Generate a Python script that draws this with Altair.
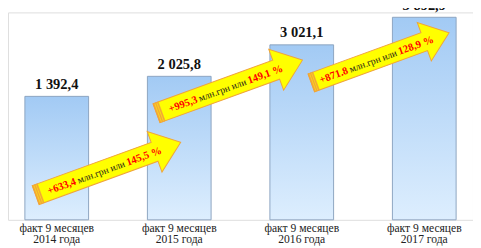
import altair as alt
import pandas as pd

# ---- data ----
periods = ["факт 9 месяцев|2014 года", "факт 9 месяцев|2015 года",
           "факт 9 месяцев|2016 года", "факт 9 месяцев|2017 года"]
values = [1392.4, 2025.8, 3021.1, 3892.9]
value_labels = ["1 392,4", "2 025,8", "3 021,1", "3 892,9"]

# growth arrows (between neighbouring bars)
arrow_pos = [0.42, 1.41, 2.64]          # position in bar-index units
arrow_level = [-894, 1698, 2613]        # level on the value axis
arrow_len = [160, 161, 152]
arrow_inc = ["+633,4", "+995,3", "+871.8"]
arrow_mid = ["млн.грн или", "млн.грн или", "млн.грн или"]
arrow_pct = ["145,5 %", "149,1 %", "128,9 %"]

bars_df = pd.DataFrame({"period": periods, "value": values, "label": value_labels})
arrows_df = pd.DataFrame({
    "pos": arrow_pos, "level": arrow_level,
    "size": [l * l for l in arrow_len],
    "inc": arrow_inc, "mid": arrow_mid, "pct": arrow_pct,
})

Y_MIN, Y_MAX = -2511, 4047
yscale = alt.Scale(domain=[Y_MIN, Y_MAX], nice=False, zero=False)
FONT = "Times New Roman, Liberation Serif, serif"

grad = alt.Gradient(
    gradient="linear", x1=0, x2=0, y1=0, y2=1,
    stops=[alt.GradientStop(color="#a2caf4", offset=0),
           alt.GradientStop(color="#ddeefe", offset=1)],
)

band_scale = alt.Scale(paddingInner=0.48, paddingOuter=0.1378)
xband = alt.X("period:N", sort=periods, scale=band_scale,
              axis=alt.Axis(title=None, labelAngle=0, domain=False, ticks=False,
                            labelExpr="split(datum.label, '|')",
                            labelFont=FONT, labelFontSize=12, labelColor="#222222",
                            labelLineHeight=12, labelPadding=3, labelBaseline="top"))

bars = alt.Chart(bars_df).mark_bar(fill=grad, stroke="#8ba3c0", strokeWidth=1).encode(
    x=xband,
    y=alt.Y("value:Q", scale=yscale, axis=None),
    y2=alt.Y2(datum=Y_MIN),
)

bar_text = alt.Chart(bars_df).mark_text(
    font=FONT, fontSize=15, fontWeight="bold", color="#111111",
    baseline="alphabetic", dy=-8,
).encode(x=xband, y=alt.Y("value:Q", scale=yscale, axis=None), text="label:N")

bar_layer = alt.layer(bars, bar_text)

W = 482
d0 = -50.5 / 127
d1 = d0 + W / 127
xq = alt.X("pos:Q", scale=alt.Scale(domain=[d0, d1], nice=False, zero=False), axis=None)
yq = alt.Y("level:Q", scale=yscale, axis=None)

ARROW = ("M -1 -0.13 L 0.64 -0.13 L 0.64 -0.28 L 1 0 L 0.64 0.28 "
         "L 0.64 0.13 L -1 0.13 Z")
TAIL = ("M -1 -0.13 L -0.985 -0.13 L -0.985 0.13 L -1 0.13 Z "
        "M -0.972 -0.13 L -0.957 -0.13 L -0.957 0.13 L -0.972 0.13 Z "
        "M -0.944 -0.13 L -0.929 -0.13 L -0.929 0.13 L -0.944 0.13 Z")
ANG = 340

arrows = alt.Chart(arrows_df).mark_point(
    shape=ARROW, filled=True, fill="#ffff00", stroke="#f0a43a", strokeWidth=1,
    opacity=1, angle=ANG,
).encode(x=xq, y=yq, size=alt.Size("size:Q", scale=None))

tails = alt.Chart(arrows_df).mark_point(
    shape=TAIL, filled=True, fill="#f2a33a", stroke="#f2a33a", strokeWidth=0.5,
    opacity=1, angle=ANG,
).encode(x=xq, y=yq, size=alt.Size("size:Q", scale=None))

t_mid = alt.Chart(arrows_df).mark_text(
    font=FONT, fontSize=10, color="#1a1a1a", angle=ANG, align="center",
    baseline="middle", dx=-8, dy=1,
).encode(x=xq, y=yq, text="mid:N")

t_inc = alt.Chart(arrows_df).mark_text(
    font=FONT, fontSize=11, fontWeight="bold", color="#ff0000", angle=ANG,
    align="right", baseline="middle", dx=-36, dy=1,
).encode(x=xq, y=yq, text="inc:N")

t_pct = alt.Chart(arrows_df).mark_text(
    font=FONT, fontSize=11, fontWeight="bold", color="#ff0000", angle=ANG,
    align="left", baseline="middle", dx=20, dy=1,
).encode(x=xq, y=yq, text="pct:N")

arrow_layer = alt.layer(arrows, tails, t_mid, t_inc, t_pct)

chart = alt.layer(bar_layer, arrow_layer).resolve_scale(
    x="independent"
).properties(
    width=W, height=215,
    autosize=alt.AutoSizeParams(type="none"),
    padding={"left": 0, "top": 0, "right": 0, "bottom": 35},
).configure_view(stroke=None).configure(background="white")

chart.save("out.html", embed_options={"renderer": "svg", "actions": False})
